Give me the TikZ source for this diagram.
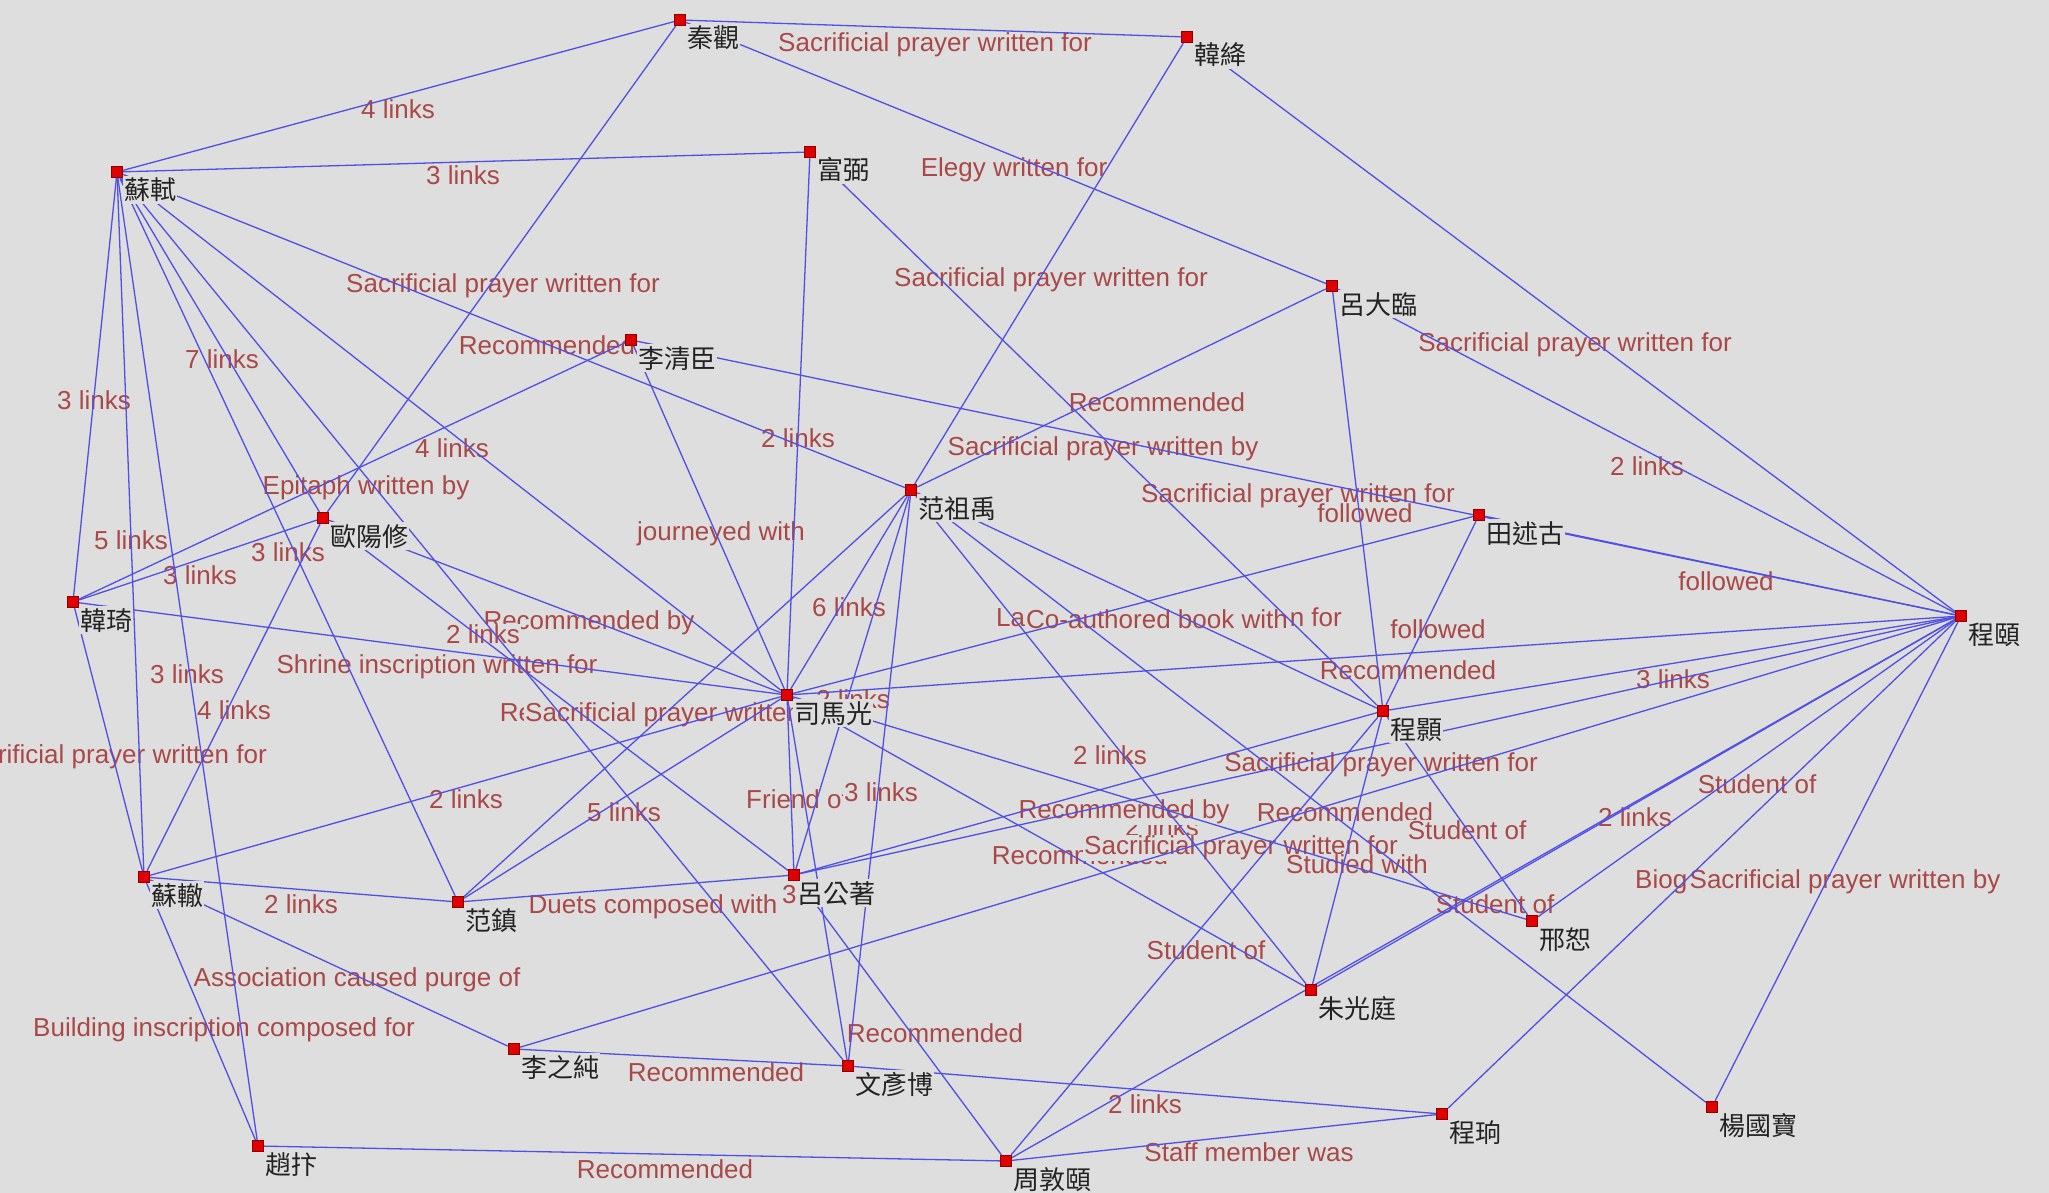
\documentclass[tikz,border=0pt]{standalone}
\usepackage{fontspec}
\setmainfont{Liberation Sans}
\newfontfamily\cjk{Noto Sans CJK TC}
\pgfdeclarelayer{bg}
\pgfdeclarelayer{elab}
\pgfdeclarelayer{edges}
\pgfsetlayers{bg,elab,edges,main}
\definecolor{bgc}{RGB}{222,222,222}
\definecolor{edgec}{RGB}{80,80,228}
\definecolor{labc}{RGB}{170,72,72}
\definecolor{sqc}{RGB}{225,0,0}
\definecolor{sqd}{RGB}{140,0,0}
\definecolor{namec}{RGB}{35,35,35}
\begin{document}
\begin{tikzpicture}[x=1pt,y=-1pt,
  person/.style={rectangle, fill=sqc, draw=sqd, line width=0.8pt, minimum size=11.5pt, inner sep=0pt},
  pname/.style={anchor=west, fill=bgc, inner sep=1pt, text=namec, font=\cjk\fontsize{26}{26}\selectfont, text height=23pt, text depth=3pt},
  elab/.style={fill=bgc, inner sep=1pt, text=labc, font=\fontsize{26}{26}\selectfont, text height=18.7pt, text depth=5.4pt},
  link/.style={draw=edgec, line width=1.3pt}]
\useasboundingbox (0,0) rectangle (2049,1193);
\begin{pgfonlayer}{bg}
\fill[bgc] (0,0) rectangle (2049,1193);
\end{pgfonlayer}

% person names
\node[pname] (nA) at (686,38) {秦觀};
\node[pname] (nB) at (1193,55) {韓絳};
\node[pname] (nC) at (123,190) {蘇軾};
\node[pname] (nD) at (816,170) {富弼};
\node[pname] (nE) at (1338,304) {呂大臨};
\node[pname] (nF) at (637,358) {李清臣};
\node[pname] (nG) at (917,508) {范祖禹};
\node[pname] (nH) at (1485,533) {田述古};
\node[pname] (nI) at (1967,634) {程頤};
\node[pname] (nJ) at (329,536) {歐陽修};
\node[pname] (nK) at (79,620) {韓琦};
\node[pname] (nL) at (793,713) {司馬光};
\node[pname] (nM) at (1389,729) {程顥};
\node[pname] (nN) at (150,895) {蘇轍};
\node[pname] (nO) at (464,920) {范鎮};
\node[pname] (nP) at (796,893) {呂公著};
\node[pname] (nQ) at (1538,939) {邢恕};
\node[pname] (nR) at (520,1067) {李之純};
\node[pname] (nS) at (854,1084) {文彥博};
\node[pname] (nT) at (1317,1008) {朱光庭};
\node[pname] (nU) at (1448,1132) {程珦};
\node[pname] (nV) at (1718,1125) {楊國寶};
\node[pname] (nW) at (264,1164) {趙抃};
\node[pname] (nX) at (1012,1179) {周敦頤};

% person squares
\node[person] (A) at (680,20) {};
\node[person] (B) at (1187,37) {};
\node[person] (C) at (117,172) {};
\node[person] (D) at (810,152) {};
\node[person] (E) at (1332,286) {};
\node[person] (F) at (631,340) {};
\node[person] (G) at (911,490) {};
\node[person] (H) at (1479,515) {};
\node[person] (I) at (1961,616) {};
\node[person] (J) at (323,518) {};
\node[person] (K) at (73,602) {};
\node[person] (L) at (787,695) {};
\node[person] (M) at (1383,711) {};
\node[person] (N) at (144,877) {};
\node[person] (O) at (458,902) {};
\node[person] (P) at (794,875) {};
\node[person] (Q) at (1532,921) {};
\node[person] (R) at (514,1049) {};
\node[person] (S) at (848,1066) {};
\node[person] (T) at (1311,990) {};
\node[person] (U) at (1442,1114) {};
\node[person] (V) at (1712,1107) {};
\node[person] (W) at (258,1146) {};
\node[person] (X) at (1006,1161) {};

\begin{pgfonlayer}{edges}
\draw[link] (A) -- (C);
\draw[link] (A) -- (B);
\draw[link] (C) -- (D);
\draw[link] (A) -- (E);
\draw[link] (A) -- (J);
\draw[link] (B) -- (G);
\draw[link] (C) -- (G);
\draw[link] (B) -- (I);
\draw[link] (E) -- (G);
\draw[link] (C) -- (K);
\draw[link] (C) -- (J);
\draw[link] (D) -- (L);
\draw[link] (D) -- (M);
\draw[link] (C) -- (L);
\draw[link] (E) -- (I);
\draw[link] (K) -- (F);
\draw[link] (F) -- (I);
\draw[link] (E) -- (M);
\draw[link] (F) -- (L);
\draw[link] (C) -- (N);
\draw[link] (C) -- (O);
\draw[link] (J) -- (K);
\draw[link] (H) -- (I);
\draw[link] (G) -- (L);
\draw[link] (J) -- (L);
\draw[link] (C) -- (S);
\draw[link] (H) -- (L);
\draw[link] (G) -- (M);
\draw[link] (H) -- (M);
\draw[link] (C) -- (W);
\draw[link] (K) -- (L);
\draw[link] (L) -- (I);
\draw[link] (I) -- (M);
\draw[link] (G) -- (P);
\draw[link] (J) -- (P);
\draw[link] (G) -- (O);
\draw[link] (J) -- (N);
\draw[link] (G) -- (T);
\draw[link] (I) -- (P);
\draw[link] (K) -- (N);
\draw[link] (I) -- (Q);
\draw[link] (L) -- (P);
\draw[link] (G) -- (S);
\draw[link] (L) -- (N);
\draw[link] (L) -- (O);
\draw[link] (P) -- (M);
\draw[link] (L) -- (Q);
\draw[link] (G) -- (V);
\draw[link] (M) -- (Q);
\draw[link] (I) -- (T);
\draw[link] (R) -- (I);
\draw[link] (L) -- (T);
\draw[link] (M) -- (T);
\draw[link] (I) -- (U);
\draw[link] (I) -- (V);
\draw[link] (N) -- (O);
\draw[link] (O) -- (P);
\draw[link] (L) -- (S);
\draw[link] (I) -- (X);
\draw[link] (M) -- (X);
\draw[link] (N) -- (R);
\draw[link] (P) -- (X);
\draw[link] (N) -- (W);
\draw[link] (R) -- (S);
\draw[link] (S) -- (U);
\draw[link] (X) -- (U);
\draw[link] (W) -- (X);
\end{pgfonlayer}

\begin{pgfonlayer}{elab}
\node[elab] (l1) at (398,112) {4 links};
\node[elab] (l2) at (935,45) {Sacrificial prayer written for};
\node[elab] (l3) at (463,178) {3 links};
\node[elab] (l4) at (1014,170) {Elegy written for};
\node[elab] (l5) at (503,286) {Sacrificial prayer written for};
\node[elab] (l6) at (1051,280) {Sacrificial prayer written for};
\node[elab] (l7) at (547,348) {Recommended};
\node[elab] (l8) at (1575,345) {Sacrificial prayer written for};
\node[elab] (l9) at (1157,405) {Recommended};
\node[elab] (l10) at (94,403) {3 links};
\node[elab] (l11) at (222,362) {7 links};
\node[elab] (l12) at (798,441) {2 links};
\node[elab] (l13) at (1103,449) {Sacrificial prayer written by};
\node[elab] (l14) at (452,451) {4 links};
\node[elab] (l15) at (1647,469) {2 links};
\node[elab] (l16) at (366,488) {Epitaph written by};
\node[elab] (l17) at (1298,496) {Sacrificial prayer written for};
\node[elab] (l18) at (1365,516) {followed};
\node[elab] (l19) at (721,534) {journeyed with};
\node[elab] (l20) at (131,543) {5 links};
\node[elab] (l21) at (288,555) {3 links};
\node[elab] (l22) at (200,578) {3 links};
\node[elab] (l23) at (1726,584) {followed};
\node[elab] (l24) at (849,610) {6 links};
\node[elab] (l25) at (589,623) {Recommended by};
\node[elab] (l26) at (483,637) {2 links};
\node[elab, anchor=west] (l27a) at (995,620) {La};
\node[elab, anchor=east] (l27c) at (1343,620) {n for};
\node[elab] (l27b) at (1157,622) {Co-authored book with};
\node[elab] (l28) at (1438,632) {followed};
\node[elab] (l29) at (187,677) {3 links};
\node[elab] (l30) at (437,667) {Shrine inscription written for};
\node[elab] (l31) at (1408,673) {Recommended};
\node[elab] (l32) at (1673,682) {3 links};
\node[elab] (l33) at (853,702) {2 links};
\node[elab] (l34) at (588,715) {Recommended};
\node[elab] (l35) at (682,715) {Sacrificial prayer written for};
\node[elab] (l36) at (234,713) {4 links};
\node[elab] (l37) at (1110,758) {2 links};
\node[elab] (l38) at (1381,765) {Sacrificial prayer written for};
\node[elab] (l39) at (110,757) {Sacrificial prayer written for};
\node[elab] (l40) at (1757,787) {Student of};
\node[elab, anchor=west] (l41) at (745,802) {Friend of};
\node[elab] (l42) at (881,795) {3 links};
\node[elab] (l43) at (466,802) {2 links};
\node[elab] (l44) at (624,815) {5 links};
\node[elab] (l46) at (1162,830) {2 links};
\node[elab] (l45) at (1124,812) {Recommended by};
\node[elab] (l47) at (1345,815) {Recommended};
\node[elab] (l48) at (1467,833) {Student of};
\node[elab] (l49) at (1635,820) {2 links};
\node[elab] (l51) at (1080,858) {Recommended};
\node[elab] (l50) at (1241,848) {Sacrificial prayer written for};
\node[elab] (l52) at (1357,867) {Studied with};
\node[elab, anchor=west] (l53) at (1634,882) {Biog};
\node[elab] (l54) at (1845,882) {Sacrificial prayer written by};
\node[elab] (l55) at (301,907) {2 links};
\node[elab] (l56) at (653,907) {Duets composed with};
\node[elab] (l57) at (819,897) {3 links};
\node[elab] (l58) at (1495,907) {Student of};
\node[elab] (l59) at (1206,953) {Student of};
\node[elab] (l60) at (357,980) {Association caused purge of};
\node[elab] (l61) at (935,1036) {Recommended};
\node[elab] (l62) at (224,1030) {Building inscription composed for};
\node[elab] (l63) at (716,1075) {Recommended};
\node[elab] (l64) at (1145,1107) {2 links};
\node[elab] (l65) at (1249,1155) {Staff member was};
\node[elab] (l66) at (665,1172) {Recommended};
\end{pgfonlayer}
\end{tikzpicture}
\end{document}
